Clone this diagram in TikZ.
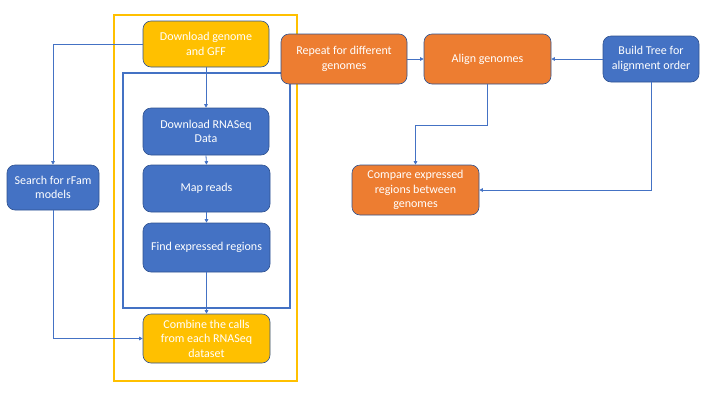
\documentclass[tikz,border=0pt]{standalone}
\usepackage{fontspec}
\setmainfont{Carlito}
\usetikzlibrary{arrows.meta}

\definecolor{boxblue}{HTML}{4472C4}
\definecolor{boxorange}{HTML}{ED7D31}
\definecolor{boxyellow}{HTML}{FFC000}
\definecolor{edgeblue}{HTML}{2F528F}

\tikzset{
    passo/.style={draw=edgeblue, line width=0.6pt, rounded corners=8pt,
        text=white, align=center, font=\fontsize{12}{14.6}\selectfont,
        inner sep=2pt},
    blu/.style={passo, fill=boxblue},
    arancio/.style={passo, fill=boxorange},
    giallo/.style={passo, fill=boxyellow},
    freccia/.style={draw=boxblue, line width=0.8pt,
        -{Triangle[length=3.5pt,width=3.5pt]}}
}

\begin{document}
\begin{tikzpicture}[x=1pt,y=-1pt]

    \useasboundingbox (0,0) rectangle (720,405);

    % Cornici
    \draw[boxyellow, line width=2pt] (114,15) rectangle (297,381);
    \draw[boxblue, line width=2pt] (123,73) rectangle (290,308);

    % Passi della pipeline
    \node[giallo, minimum width=126pt, minimum height=46pt] (gen) at (206,44)
        {Download genome\\and GFF};
    \node[blu, minimum width=126pt, minimum height=47pt] (rna) at (206,131.5)
        {Download RNASeq\\Data};
    \node[blu, minimum width=127pt, minimum height=47pt] (map) at (206.5,188.5)
        {Map reads};
    \node[blu, minimum width=127pt, minimum height=49pt] (find) at (206.5,247.5)
        {Find expressed regions};
    \node[giallo, minimum width=127pt, minimum height=49pt] (comb) at (206.5,338.5)
        {Combine the calls\\from each RNASeq\\dataset};
    \node[blu, minimum width=92pt, minimum height=45pt] (rfam) at (53,187.5)
        {Search for rFam\\models};

    % Confronto tra genomi
    \node[arancio, minimum width=126pt, minimum height=50pt] (rep) at (344,59)
        {Repeat for different\\genomes};
    \node[arancio, minimum width=127pt, minimum height=50pt] (align) at (487.5,59)
        {Align genomes};
    \node[blu, minimum width=96pt, minimum height=46pt] (tree) at (651,59)
        {Build Tree for\\alignment order};
    \node[arancio, minimum width=127pt, minimum height=50pt] (cmp) at (415.5,190)
        {Compare expressed\\regions between\\genomes};

    % Frecce
    \draw[freccia]
        (gen.west) -| (rfam.north);

    \draw[freccia]
        (gen.south) -- (rna.north);

    \draw[freccia]
        (rna.south) -- (map.north);

    \draw[freccia]
        (map.south) -- (find.north);

    \draw[freccia]
        (find.south) -- (comb.north);

    \draw[freccia]
        (rfam.south) |- (comb.west);

    \draw[freccia]
        (rep.east) -- (align.west);

    \draw[freccia]
        (tree.west) -- (align.east);

    \draw[freccia]
        (align.south) -- ++(0,41) -| (cmp.north);

    \draw[freccia]
        (tree.south) |- (cmp.east);

\end{tikzpicture}
\end{document}
